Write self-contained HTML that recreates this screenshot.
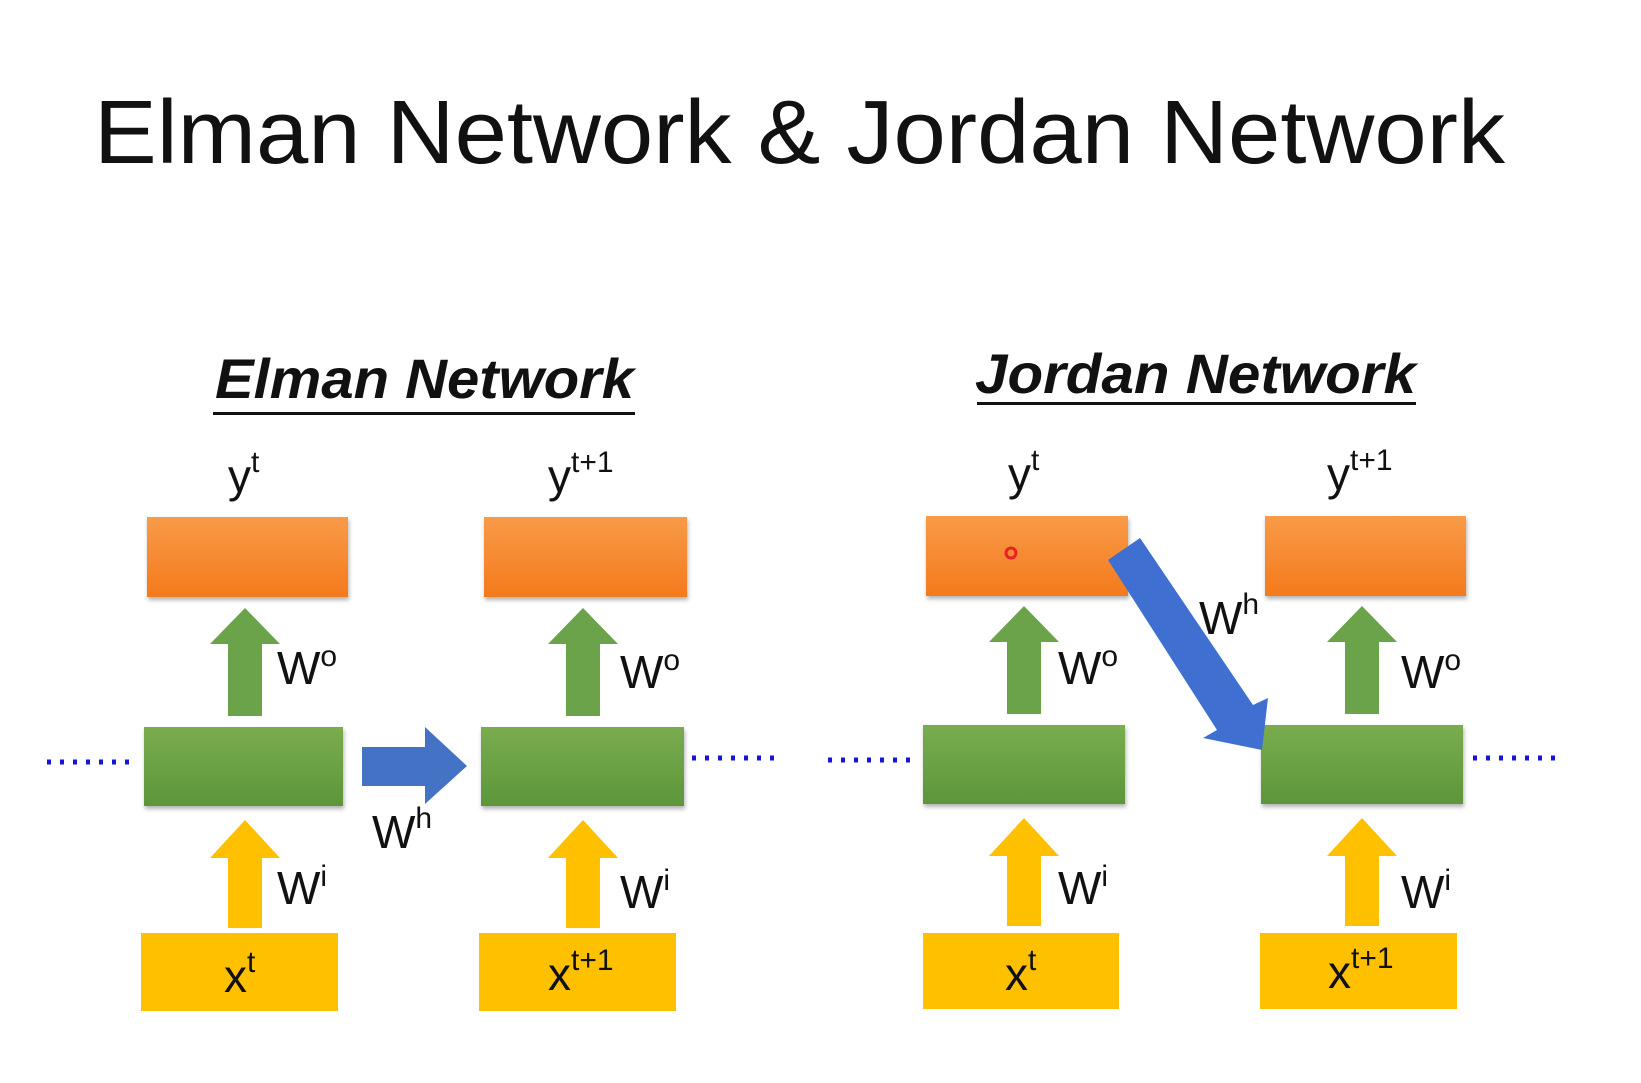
<!DOCTYPE html>
<html><head><meta charset="utf-8"><style>html,body{margin:0;padding:0;background:#fff;}svg{display:block}</style></head>
<body>
<svg width="1641" height="1083" viewBox="0 0 1641 1083" xmlns="http://www.w3.org/2000/svg" font-family="Liberation Sans, sans-serif">
<defs>
<linearGradient id="or" x1="0" y1="0" x2="0" y2="1"><stop offset="0" stop-color="#f89a48"/><stop offset="1" stop-color="#f47a1c"/></linearGradient>
<linearGradient id="gr" x1="0" y1="0" x2="0" y2="1"><stop offset="0" stop-color="#79ad4f"/><stop offset="1" stop-color="#5c963a"/></linearGradient>
<filter id="sh" x="-10%" y="-10%" width="130%" height="140%"><feDropShadow dx="1" dy="3" stdDeviation="2" flood-color="#000" flood-opacity="0.3"/></filter>
</defs>
<text x="94" y="163" font-size="90" fill="#111" textLength="1411" lengthAdjust="spacingAndGlyphs">Elman Network &amp; Jordan Network</text>

<text x="215" y="398" font-size="56" font-weight="bold" font-style="italic" fill="#111" textLength="419" lengthAdjust="spacingAndGlyphs">Elman Network</text>
<rect x="213" y="412" width="422" height="3" fill="#111"/>
<text x="975" y="393" font-size="56" font-weight="bold" font-style="italic" fill="#111" textLength="441" lengthAdjust="spacingAndGlyphs">Jordan Network</text>
<rect x="977" y="402" width="439" height="3" fill="#111"/>

<g filter="url(#sh)">
<rect x="147" y="517" width="201" height="80" fill="url(#or)"/>
<rect x="484" y="517" width="203" height="80" fill="url(#or)"/>
<rect x="926" y="516" width="202" height="80" fill="url(#or)"/>
<rect x="1265" y="516" width="201" height="80" fill="url(#or)"/>
<rect x="144" y="727" width="199" height="79" fill="url(#gr)"/>
<rect x="481" y="727" width="203" height="79" fill="url(#gr)"/>
<rect x="923" y="725" width="202" height="79" fill="url(#gr)"/>
<rect x="1261" y="725" width="202" height="79" fill="url(#gr)"/>
</g>
<rect x="141" y="933" width="197" height="78" fill="#ffc000"/>
<rect x="479" y="933" width="197" height="78" fill="#ffc000"/>
<rect x="923" y="933" width="196" height="76" fill="#ffc000"/>
<rect x="1260" y="933" width="197" height="76" fill="#ffc000"/>

<!-- green up arrows -->
<g fill="#6aa34a">
<polygon points="228,716 262,716 262,644 280,644 245,608 210,644 228,644"/>
<polygon points="566,716 600,716 600,644 618,644 583,608 548,644 566,644"/>
<polygon points="1007,714 1041,714 1041,642 1059,642 1024,606 989,642 1007,642"/>
<polygon points="1345,714 1379,714 1379,642 1397,642 1362,606 1327,642 1345,642"/>
</g>
<!-- yellow up arrows -->
<g fill="#ffc000">
<polygon points="228,928 262,928 262,858 280,858 245,820 210,858 228,858"/>
<polygon points="566,928 600,928 600,858 618,858 583,820 548,858 566,858"/>
<polygon points="1007,926 1041,926 1041,856 1059,856 1024,818 989,856 1007,856"/>
<polygon points="1345,926 1379,926 1379,856 1397,856 1362,818 1327,856 1345,856"/>
</g>
<!-- blue arrows -->
<polygon points="362,747 425,747 425,727 467,766 425,804 425,786 362,786" fill="#4472c4"/>
<polygon points="1140,538 1253,705 1268,698 1262,750 1203,738 1217,730 1108,560" fill="#3f6fd0"/>

<!-- dots -->
<g stroke="#1515d8" stroke-width="5" stroke-dasharray="4,9" stroke-linecap="butt">
<line x1="47" y1="762" x2="130" y2="762"/>
<line x1="692" y1="758" x2="775" y2="758"/>
<line x1="828" y1="760" x2="911" y2="760"/>
<line x1="1473" y1="758" x2="1556" y2="758"/>
</g>

<circle cx="1011" cy="553" r="5" fill="none" stroke="#e8202a" stroke-width="3"/>

<g font-size="46" fill="#111">
<text x="228" y="492">y<tspan font-size="30" dy="-20">t</tspan></text>
<text x="548" y="492">y<tspan font-size="30" dy="-20">t+1</tspan></text>
<text x="1008" y="490">y<tspan font-size="30" dy="-20">t</tspan></text>
<text x="1327" y="490">y<tspan font-size="30" dy="-20">t+1</tspan></text>

<text x="277" y="684">W<tspan font-size="30" dy="-18">o</tspan></text>
<text x="620" y="688">W<tspan font-size="30" dy="-18">o</tspan></text>
<text x="1058" y="684">W<tspan font-size="30" dy="-18">o</tspan></text>
<text x="1401" y="688">W<tspan font-size="30" dy="-18">o</tspan></text>

<text x="277" y="904">W<tspan font-size="30" dy="-18">i</tspan></text>
<text x="620" y="908">W<tspan font-size="30" dy="-18">i</tspan></text>
<text x="1058" y="904">W<tspan font-size="30" dy="-18">i</tspan></text>
<text x="1401" y="908">W<tspan font-size="30" dy="-18">i</tspan></text>

<text x="372" y="848">W<tspan font-size="30" dy="-20">h</tspan></text>
<text x="1199" y="634">W<tspan font-size="30" dy="-20">h</tspan></text>

<text x="224" y="992">x<tspan font-size="30" dy="-20">t</tspan></text>
<text x="548" y="990">x<tspan font-size="30" dy="-20">t+1</tspan></text>
<text x="1005" y="990">x<tspan font-size="30" dy="-20">t</tspan></text>
<text x="1328" y="988">x<tspan font-size="30" dy="-20">t+1</tspan></text>
</g>
</svg>
</body></html>
